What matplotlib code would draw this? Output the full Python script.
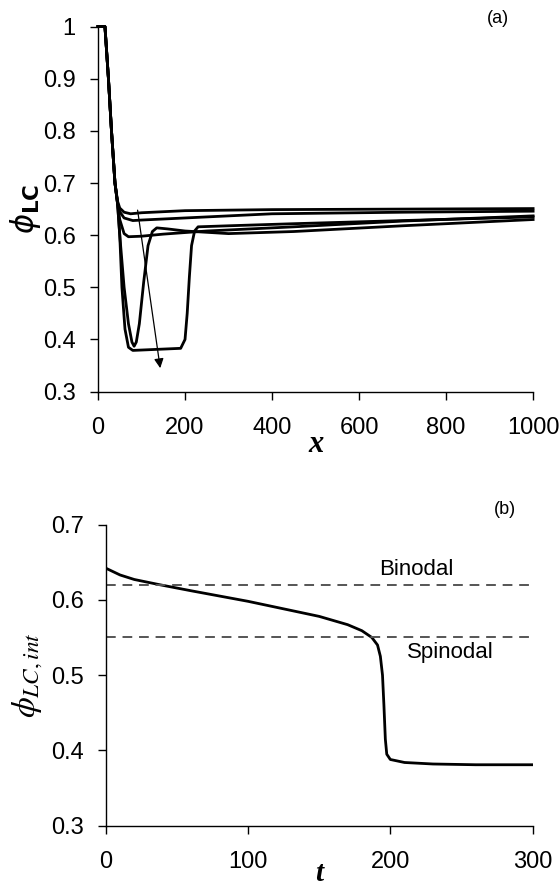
import matplotlib
matplotlib.use("Agg")
import matplotlib.pyplot as plt

plt.rcParams["font.family"] = ["Liberation Sans", "DejaVu Sans"]

# panel (a): phi_LC profiles along x, five times
x_a = [0, 16, 24, 31, 39, 45, 50, 60, 75, 100, 200, 400, 700, 1000]
phi_a = [1.0, 1.0, 0.9, 0.8, 0.7, 0.665, 0.652, 0.644, 0.641, 0.643, 0.647, 0.649, 0.65, 0.651]

x_b = [0, 16, 24, 31, 39, 45, 50, 60, 80, 100, 200, 400, 700, 1000]
phi_b = [1.0, 1.0, 0.9, 0.8, 0.7, 0.662, 0.645, 0.633, 0.628, 0.629, 0.633, 0.641, 0.644, 0.646]

x_c = [0, 16, 24, 31, 39, 45, 50, 60, 70, 100, 150, 250, 450, 700, 1000]
phi_c = [1.0, 1.0, 0.9, 0.8, 0.7, 0.66, 0.63, 0.603, 0.597, 0.598, 0.602, 0.608, 0.616, 0.627, 0.637]

x_d = [0, 16, 24, 31, 39, 45, 50, 60, 70, 78, 83, 88, 95, 105, 115, 125, 135, 160, 200, 300, 450, 700, 1000]
phi_d = [1.0, 1.0, 0.9, 0.8, 0.7, 0.66, 0.6, 0.5, 0.43, 0.395, 0.387, 0.395, 0.43, 0.51, 0.58, 0.607, 0.614, 0.612, 0.608, 0.603, 0.607, 0.618, 0.63]

x_e = [0, 16, 24, 31, 39, 45, 50, 55, 62, 70, 80, 190, 200, 205, 210, 215, 222, 230, 300, 450, 700, 1000]
phi_e = [1.0, 1.0, 0.9, 0.8, 0.7, 0.66, 0.6, 0.5, 0.42, 0.385, 0.379, 0.383, 0.40, 0.45, 0.52, 0.58, 0.608, 0.616, 0.618, 0.622, 0.628, 0.635]

# panel (b): interface composition vs time
t = [0, 10, 20, 38, 60, 100, 150, 170, 180, 187, 191, 193, 194.5, 195.5, 196.5, 197.5, 200, 210, 230, 260, 300]
phi_int = [0.642, 0.633, 0.627, 0.62, 0.612, 0.598, 0.578, 0.567, 0.559, 0.55, 0.54, 0.525, 0.5, 0.46, 0.415, 0.395, 0.388, 0.384, 0.382, 0.381, 0.381]
binodal = 0.62
spinodal = 0.55

fig = plt.figure(figsize=(5.6, 8.86), dpi=100)
ax1 = fig.add_axes([0.175, 0.558, 0.777, 0.412])
ax2 = fig.add_axes([0.189, 0.068, 0.762, 0.340])

for xs, ys in [(x_a, phi_a), (x_b, phi_b), (x_c, phi_c), (x_d, phi_d), (x_e, phi_e)]:
    ax1.plot(xs, ys, color="black", lw=2.0, solid_joinstyle="round", clip_on=False)

ax1.annotate("", xy=(143, 0.345), xytext=(91, 0.648),
             arrowprops=dict(arrowstyle="-|>", color="black", lw=0.9,
                             mutation_scale=14, shrinkA=0, shrinkB=0))

ax1.set_xlim(0, 1000)
ax1.set_ylim(0.3, 1.0)
ax1.set_xticks([0, 200, 400, 600, 800, 1000])
ax1.set_yticks([0.3, 0.4, 0.5, 0.6, 0.7, 0.8, 0.9, 1.0])
ax1.set_yticklabels(["0.3", "0.4", "0.5", "0.6", "0.7", "0.8", "0.9", "1"])
ax1.set_xlabel("x", fontfamily="Liberation Serif", style="italic", fontweight="bold",
               fontsize=22, labelpad=-6)
ax1.set_ylabel(r"$\phi_{\mathbf{LC}}$", fontsize=22, math_fontfamily="dejavusans", labelpad=0)
ax1.text(0.92, 1.0, "(a)", transform=ax1.transAxes, fontsize=13, ha="center", va="bottom")

ax2.plot(t, phi_int, color="black", lw=2.0)
ax2.axhline(binodal, color="#555555", lw=1.4, ls=(0, (5, 3.5)))
ax2.axhline(spinodal, color="#555555", lw=1.4, ls=(0, (5, 3.5)))
ax2.text(218, 0.64, "Binodal", fontsize=16, ha="center", va="center")
ax2.text(242, 0.53, "Spinodal", fontsize=16, ha="center", va="center")
ax2.set_xlim(0, 300)
ax2.set_ylim(0.3, 0.7)
ax2.set_xticks([0, 100, 200, 300])
ax2.set_yticks([0.3, 0.4, 0.5, 0.6, 0.7])
ax2.set_yticklabels(["0.3", "0.4", "0.5", "0.6", "0.7"])
ax2.set_xlabel("t", fontfamily="Liberation Serif", style="italic", fontweight="bold",
               fontsize=21, labelpad=-9)
ax2.set_ylabel(r"$\phi_{LC,int}$", fontsize=24, math_fontfamily="stix", labelpad=4)
ax2.text(0.935, 1.02, "(b)", transform=ax2.transAxes, fontsize=13, ha="center", va="bottom")

for ax in (ax1, ax2):
    ax.spines["top"].set_visible(False)
    ax.spines["right"].set_visible(False)
    ax.spines["left"].set_linewidth(1.0)
    ax.spines["bottom"].set_linewidth(1.0)
    ax.tick_params(direction="out", length=6, width=1.0, labelsize=17)
    ax.tick_params(axis="x", pad=12)
    ax.tick_params(axis="y", pad=10)

fig.savefig("out.png", dpi=100)
